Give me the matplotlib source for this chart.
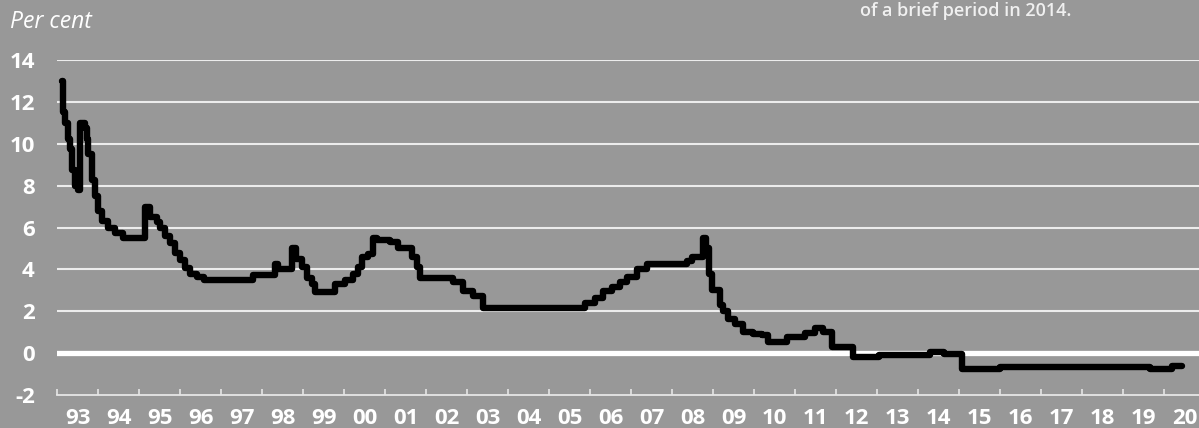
import matplotlib.pyplot as plt
import numpy as np

# Policy rate, step changes (decimal year, per cent)
change_dates = [
    1993.12, 1993.15, 1993.20, 1993.27, 1993.32, 1993.37, 1993.44, 1993.50,
    1993.56, 1993.68, 1993.73, 1993.76, 1993.85, 1993.93, 1994.00, 1994.10,
    1994.25, 1994.42, 1994.60, 1995.15, 1995.28, 1995.45, 1995.52, 1995.64,
    1995.76, 1995.88, 1996.00, 1996.12, 1996.24, 1996.41, 1996.58, 1997.78,
    1998.32, 1998.40, 1998.73, 1998.83, 1998.98, 1999.10, 1999.22, 1999.30,
    1999.78, 2000.02, 2000.22, 2000.34, 2000.44, 2000.59, 2000.71, 2000.80,
    2001.12, 2001.32, 2001.66, 2001.78, 2001.85, 2002.66, 2002.90, 2003.15,
    2003.39, 2005.88, 2006.12, 2006.32, 2006.54, 2006.73, 2006.90, 2007.15,
    2007.39, 2008.37, 2008.49, 2008.76, 2008.83, 2008.90, 2008.98, 2009.17,
    2009.24, 2009.37, 2009.54, 2009.73, 2009.98, 2010.20, 2010.34, 2010.80,
    2011.24, 2011.49, 2011.68, 2011.90, 2012.41, 2013.05, 2014.29, 2014.63,
    2015.07, 2016.00, 2019.66, 2020.20, 2020.44,
]
rates = [
    13.0, 11.5, 11.0, 10.25, 9.75, 8.75, 8.0, 7.8,
    11.0, 10.75, 10.25, 9.5, 8.25, 7.5, 6.8, 6.3,
    6.0, 5.75, 5.5, 7.0, 6.5, 6.25, 6.0, 5.6,
    5.25, 4.8, 4.45, 4.05, 3.8, 3.65, 3.5, 3.75,
    4.25, 4.0, 5.0, 4.5, 4.1, 3.6, 3.3, 2.9,
    3.3, 3.5, 3.8, 4.1, 4.6, 4.75, 5.5, 5.4,
    5.3, 5.0, 4.6, 4.1, 3.6, 3.4, 2.95, 2.75,
    2.15, 2.4, 2.65, 2.95, 3.15, 3.4, 3.65, 4.0,
    4.25, 4.4, 4.6, 5.5, 5.0, 3.8, 3.0, 2.3,
    2.0, 1.65, 1.4, 1.0, 0.9, 0.85, 0.55, 0.75,
    0.95, 1.2, 1.0, 0.3, -0.2, -0.1, 0.05, -0.05,
    -0.75, -0.65, -0.75, -0.6, -0.6,
]
years = list(range(1993, 2021))
year_labels = [f"{y % 100:02d}" for y in years]
y_ticks = [-2, 0, 2, 4, 6, 8, 10, 12, 14]

bg = '#989898'
fig = plt.figure(figsize=(11.99, 4.28), dpi=100, facecolor=bg)
ax = fig.add_axes([57 / 1199, 33 / 428, 1 - 57 / 1199, 335 / 428], facecolor=bg)

# Gridlines and thick zero line
for v in y_ticks[2:]:
    ax.axhline(v, color='#ececec', lw=1.5, zorder=1)
ax.axhline(0, color='white', lw=3.8, zorder=2)

ax.step(change_dates, rates, where='post', color='black', lw=4.6,
        solid_joinstyle='round', solid_capstyle='round', zorder=3)

ax.set_xlim(1993, 2020.85)
ax.set_ylim(-2, 14)

for s in ['top', 'right', 'left']:
    ax.spines[s].set_visible(False)
ax.spines['bottom'].set_color('#e6e6e6')
ax.spines['bottom'].set_linewidth(1.3)

# year boundaries get ticks, labels sit mid-year
ax.set_xticks(years)
ax.set_xticklabels([])
ax.tick_params(axis='x', which='major', direction='in', length=4,
               width=1.2, color='#e6e6e6')
ax.set_xticks([y + 0.5 for y in years], minor=True)
ax.set_xticklabels(year_labels, minor=True)
ax.tick_params(axis='x', which='minor', length=0, pad=9, labelsize=16,
               labelcolor='white')
for lab in ax.get_xticklabels(minor=True):
    lab.set_fontweight('bold')
    lab.set_family('Open Sans')

ax.set_yticks(y_ticks)
ax.set_yticklabels([str(v) for v in y_ticks])
ax.tick_params(axis='y', length=0, pad=16, labelsize=16, labelcolor='white')
for lab in ax.get_yticklabels():
    lab.set_fontweight('bold')
    lab.set_family('Open Sans')

fig.text(10 / 1199, 1 - 22 / 428, 'Per cent', color='white', fontsize=16.5,
         style='italic', family='Open Sans', va='center', ha='left')
fig.text(860 / 1199, 1 - 11 / 428, 'of a brief period in 2014.',
         color='#f0f0f0', fontsize=13, family='Open Sans',
         fontweight='semibold', va='center', ha='left')

fig.savefig('out.png', dpi=100, facecolor=bg)
